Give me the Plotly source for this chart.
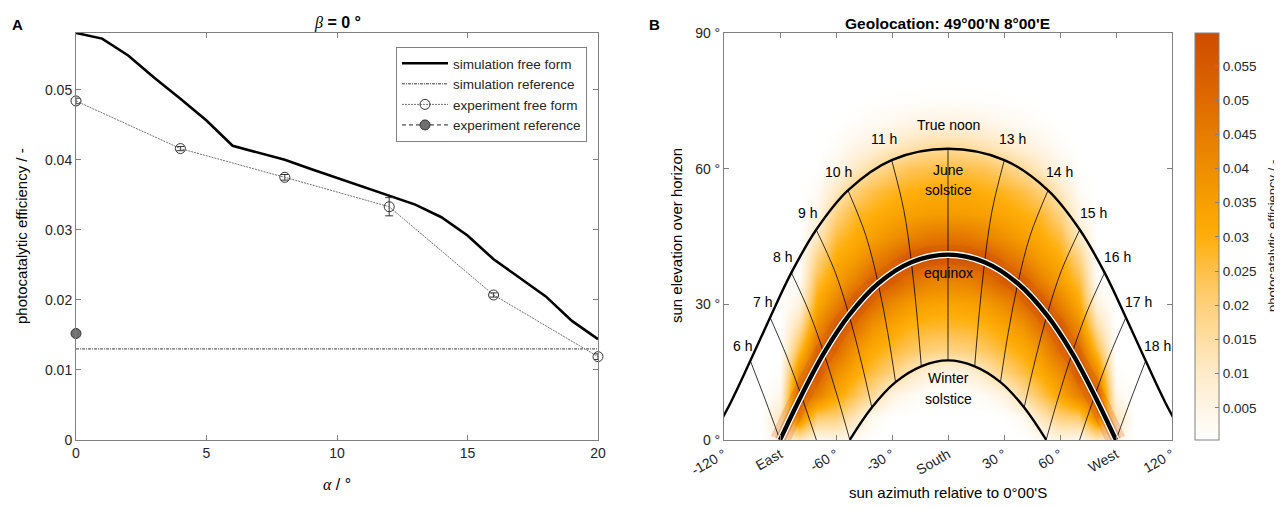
import plotly.graph_objects as go

# The page is 1282x508 and the browser adds an 8px body margin, so the figure starts
# at (8, 8).  All design coordinates below are page pixels, converted with PX/PY.
MARGIN = 8
W, H = 1282 - MARGIN, 508 - MARGIN


def PX(x):
    return (x - MARGIN) / W


def PY(y):
    return 1 - (y - MARGIN) / H


# ---------------- Panel A data ----------------
alpha_sim = [0, 1, 2, 3, 4, 5, 6, 7, 8, 9, 10, 11, 12, 13, 14, 15, 16, 17, 18, 19, 20]
eff_sim_free = [0.0581, 0.0573, 0.0549, 0.0517, 0.0487, 0.0456, 0.0420, 0.0410, 0.0400, 0.0387,
                0.0374, 0.0361, 0.0348, 0.0336, 0.0318, 0.0292, 0.0258, 0.0231, 0.0205, 0.0170, 0.0144]
alpha_sim_ref = [0, 20]
eff_sim_ref = [0.0130, 0.0130]
alpha_exp = [0, 4, 8, 12, 16, 20]
eff_exp_free = [0.0484, 0.0416, 0.0375, 0.0333, 0.0207, 0.0119]
err_exp_free = [0.0004, 0.0003, 0.0004, 0.0013, 0.0003, 0.0004]
alpha_exp_ref = [0]
eff_exp_ref = [0.0152]
err_exp_ref = [0.0003]
a_xticks = [0, 5, 10, 15, 20]
a_yticks = [0, 0.01, 0.02, 0.03, 0.04, 0.05]
a_yticktext = ["0", "0.01", "0.02", "0.03", "0.04", "0.05"]

# ---------------- Panel B data ----------------
az_grid = [-120, -110, -100, -90, -80, -70, -60, -50, -40, -30, -20, -10, 0,
           10, 20, 30, 40, 50, 60, 70, 80, 90, 100, 110, 120]
el_grid = [0, 5, 10, 15, 20, 25, 30, 35, 40, 45, 50, 55, 60, 65, 70, 75, 80, 85, 90]
eff_map = [
    [0, 0, 0, 0.006, 0.012, 0.003, 0.005, 0.002, 0, 0, 0, 0, 0, 0, 0, 0, 0, 0.002, 0.005, 0.003, 0.012, 0.006, 0, 0, 0],
    [0, 0, 0, 0.012, 0.042, 0.022, 0.020, 0.012, 0.003, 0.0003, 0, 0, 0, 0, 0, 0.0003, 0.003, 0.012, 0.020, 0.022, 0.042, 0.012, 0, 0, 0],
    [0, 0, 0, 0.004, 0.052, 0.044, 0.033, 0.024, 0.016, 0.006, 0.0025, 0.0005, 0.0003, 0.0005, 0.0025, 0.006, 0.016, 0.024, 0.033, 0.044, 0.052, 0.004, 0, 0, 0],
    [0, 0, 0, 0.001, 0.040, 0.055, 0.040, 0.032, 0.0255, 0.0195, 0.012, 0.007, 0.005, 0.007, 0.012, 0.0195, 0.0255, 0.032, 0.040, 0.055, 0.040, 0.001, 0, 0, 0],
    [0, 0, 0, 0, 0.026, 0.050, 0.050, 0.038, 0.0315, 0.027, 0.023, 0.020, 0.019, 0.020, 0.023, 0.027, 0.0315, 0.038, 0.050, 0.050, 0.026, 0, 0, 0, 0],
    [0, 0, 0, 0, 0.015, 0.040, 0.054, 0.048, 0.038, 0.033, 0.029, 0.0275, 0.027, 0.0275, 0.029, 0.033, 0.038, 0.048, 0.054, 0.040, 0.015, 0, 0, 0, 0],
    [0, 0, 0, 0, 0.006, 0.032, 0.0435, 0.056, 0.049, 0.041, 0.036, 0.034, 0.033, 0.034, 0.036, 0.041, 0.049, 0.056, 0.0435, 0.032, 0.006, 0, 0, 0, 0],
    [0, 0, 0, 0, 0.002, 0.026, 0.0355, 0.044, 0.054, 0.053, 0.047, 0.043, 0.042, 0.043, 0.047, 0.053, 0.054, 0.044, 0.0355, 0.026, 0.002, 0, 0, 0, 0],
    [0, 0, 0, 0, 0.0005, 0.019, 0.031, 0.0357, 0.043, 0.049, 0.056, 0.056, 0.055, 0.056, 0.056, 0.049, 0.043, 0.0357, 0.031, 0.019, 0.0005, 0, 0, 0, 0],
    [0, 0, 0, 0, 0, 0.011, 0.026, 0.031, 0.0348, 0.039, 0.043, 0.046, 0.047, 0.046, 0.043, 0.039, 0.0348, 0.031, 0.026, 0.011, 0, 0, 0, 0, 0],
    [0, 0, 0, 0, 0, 0.005, 0.019, 0.027, 0.030, 0.0327, 0.0345, 0.0355, 0.036, 0.0355, 0.0345, 0.0327, 0.030, 0.027, 0.019, 0.005, 0, 0, 0, 0, 0],
    [0, 0, 0, 0, 0, 0.002, 0.011, 0.020, 0.025, 0.028, 0.0297, 0.031, 0.031, 0.031, 0.0297, 0.028, 0.025, 0.020, 0.011, 0.002, 0, 0, 0, 0, 0],
    [0, 0, 0, 0, 0, 0.0005, 0.005, 0.0105, 0.016, 0.0205, 0.024, 0.025, 0.026, 0.025, 0.024, 0.0205, 0.016, 0.0105, 0.005, 0.0005, 0, 0, 0, 0, 0],
    [0, 0, 0, 0, 0, 0, 0.0015, 0.0045, 0.007, 0.010, 0.013, 0.015, 0.016, 0.015, 0.013, 0.010, 0.007, 0.0045, 0.0015, 0, 0, 0, 0, 0, 0],
    [0, 0, 0, 0, 0, 0, 0.0003, 0.0012, 0.0025, 0.0035, 0.005, 0.006, 0.006, 0.006, 0.005, 0.0035, 0.0025, 0.0012, 0.0003, 0, 0, 0, 0, 0, 0],
    [0, 0, 0, 0, 0, 0, 0, 0, 0.0005, 0.0008, 0.001, 0.0015, 0.0015, 0.0015, 0.001, 0.0008, 0.0005, 0, 0, 0, 0, 0, 0, 0, 0],
    [0] * 25,
    [0] * 25,
    [0] * 25,
]

# sun paths (azimuth from south, elevation)
june_az = [-127.4, -116.4, -105.9, -95.3, -83.9, -70.6, -53.6, -30.2, 0, 30.2, 53.6, 70.6, 83.9, 95.3, 105.9, 116.4, 127.4]
june_el = [-0.05, 8.3, 17.5, 27.1, 37.0, 46.5, 55.2, 61.9, 64.4, 61.9, 55.2, 46.5, 37.0, 27.1, 17.5, 8.3, -0.05]
equinox_az = [-90, -78.6, -66.5, -53.0, -37.4, -19.6, 0, 19.6, 37.4, 53.0, 66.5, 78.6, 90]
equinox_el = [0, 9.8, 19.2, 27.6, 34.6, 39.3, 41.0, 39.3, 34.6, 27.6, 19.2, 9.8, 0]
winter_az = [-52.6, -40.8, -28.1, -14.3, 0, 14.3, 28.1, 40.8, 52.6]
winter_el = [0.05, 7.2, 12.8, 16.3, 17.6, 16.3, 12.8, 7.2, 0.05]

# hour lines: from June path down to winter path / horizon
hour_lines_az = [
    [-105.9, -97.8, -90.0],
    [-95.3, -86.5, -78.6, -70.5],
    [-83.9, -74.4, -66.5, -59.3, -52.6],
    [-70.6, -60.7, -53.0, -46.6, -40.8],
    [-53.6, -44.0, -37.4, -32.3, -28.1],
    [-30.2, -23.6, -19.6, -16.7, -14.3],
    [0, 0, 0, 0, 0],
    [30.2, 23.6, 19.6, 16.7, 14.3],
    [53.6, 44.0, 37.4, 32.3, 28.1],
    [70.6, 60.7, 53.0, 46.6, 40.8],
    [83.9, 74.4, 66.5, 59.3, 52.6],
    [95.3, 86.5, 78.6, 70.5],
    [105.9, 97.8, 90.0],
]
hour_lines_el = [
    [17.5, 8.8, 0],
    [27.1, 18.6, 9.8, 0],
    [37.0, 28.3, 19.2, 9.7, 0.05],
    [46.5, 37.4, 27.6, 17.5, 7.2],
    [55.2, 45.2, 34.6, 23.8, 12.8],
    [61.9, 50.7, 39.3, 27.9, 16.3],
    [64.4, 52.7, 41.0, 29.3, 17.6],
    [61.9, 50.7, 39.3, 27.9, 16.3],
    [55.2, 45.2, 34.6, 23.8, 12.8],
    [46.5, 37.4, 27.6, 17.5, 7.2],
    [37.0, 28.3, 19.2, 9.7, 0.05],
    [27.1, 18.6, 9.8, 0],
    [17.5, 8.8, 0],
]

hour_label_text = ["6 h", "7 h", "8 h", "9 h", "10 h", "11 h", "True noon", "13 h", "14 h", "15 h", "16 h", "17 h", "18 h"]
hour_label_az = [-110.3, -99.6, -88.9, -75.5, -58.4, -34.3, 0, 34.3, 59.5, 78.2, 91.0, 101.8, 112.0]
hour_label_el = [20.8, 30.5, 40.5, 50.2, 59.3, 66.6, 69.7, 66.6, 59.3, 50.2, 40.5, 30.5, 20.8]
path_label_text = ["June", "solstice", "equinox", "Winter", "solstice"]
path_label_az = [0, 0, 0, 0, 0]
path_label_el = [59.7, 55.3, 37.0, 13.8, 9.0]

b_xticks = [-120, -90, -60, -30, 0, 30, 60, 90, 120]
b_xticktext = ["-120 °", "East", "-60 °", "-30 °", "South", "30 °", "60 °", "West", "120 °"]
b_yticks = [0, 30, 60, 90]
b_yticktext = ["0 °", "30 °", "60 °", "90 °"]
cb_ticks = [0.005, 0.01, 0.015, 0.02, 0.025, 0.03, 0.035, 0.04, 0.045, 0.05, 0.055]
cb_ticktext = ["0.005", "0.01", "0.015", "0.02", "0.025", "0.03", "0.035", "0.04", "0.045", "0.05", "0.055"]
eff_min, eff_max = 0.0003, 0.0598

colorscale = [
    [0.0, "#FFFFFF"], [0.079, "#FFF5E6"], [0.163, "#FFEBC9"], [0.247, "#FFDEA3"],
    [0.331, "#FFD07A"], [0.415, "#FFC04A"], [0.499, "#FFAE0A"], [0.583, "#F79F00"],
    [0.667, "#EE8E00"], [0.752, "#E67C00"], [0.836, "#DE6A00"], [0.92, "#D65A00"],
    [1.0, "#CF4C00"],
]

FONT = "Liberation Sans, Arial, sans-serif"
TXT = "#262626"
AX = "#808080"

fig = go.Figure()

# ---- Panel A traces ----
fig.add_trace(go.Scatter(x=alpha_sim, y=eff_sim_free, mode="lines", name="simulation free form",
                         line=dict(color="black", width=2.6), xaxis="x", yaxis="y"))
fig.add_trace(go.Scatter(x=alpha_sim_ref, y=eff_sim_ref, mode="lines", name="simulation reference",
                         line=dict(color="#3a3a3a", width=1, dash="3px,1px,1px,1px"), xaxis="x", yaxis="y"))
fig.add_trace(go.Scatter(x=alpha_exp, y=eff_exp_free, mode="lines+markers", name="experiment free form",
                         line=dict(color="#707070", width=1, dash="2px,1px"),
                         marker=dict(symbol="circle-open", size=10, color="#333333", line=dict(width=1)),
                         error_y=dict(type="data", array=err_exp_free, color="#333333", thickness=1, width=4),
                         cliponaxis=False, xaxis="x", yaxis="y"))
fig.add_trace(go.Scatter(x=alpha_exp_ref, y=eff_exp_ref, mode="lines+markers", name="experiment reference",
                         line=dict(color="#222222", width=1, dash="4px,3px"),
                         marker=dict(symbol="circle", size=10, color="#707070", line=dict(color="#333333", width=1)),
                         error_y=dict(type="data", array=err_exp_ref, color="#333333", thickness=1, width=4),
                         cliponaxis=False, xaxis="x", yaxis="y"))

# ---- Panel B traces ----
fig.add_trace(go.Heatmap(x=az_grid, y=el_grid, z=eff_map, colorscale=colorscale, zmin=eff_min, zmax=eff_max,
                         zsmooth="best", showscale=True, xaxis="x2", yaxis="y2", hoverinfo="skip",
                         colorbar=dict(x=PX(1195), xanchor="left", y=PY(236.5), yanchor="middle",
                                       thickness=24, thicknessmode="pixels", len=407, lenmode="pixels",
                                       outlinecolor=AX, outlinewidth=1, tickvals=cb_ticks, ticktext=cb_ticktext,
                                       ticks="inside", ticklen=4, tickcolor=AX,
                                       tickfont=dict(family=FONT, size=13.5, color=TXT), ypad=0, xpad=0)))
# soft ridge along the equinox path
fig.add_trace(go.Scatter(x=equinox_az, y=equinox_el, mode="lines", showlegend=False, hoverinfo="skip",
                         line=dict(color="rgba(205,78,0,0.22)", width=20, shape="spline"), xaxis="x2", yaxis="y2"))
fig.add_trace(go.Scatter(x=equinox_az, y=equinox_el, mode="lines", showlegend=False, hoverinfo="skip",
                         line=dict(color="rgba(205,78,0,0.35)", width=10, shape="spline"), xaxis="x2", yaxis="y2"))
for haz, hel in zip(hour_lines_az, hour_lines_el):
    fig.add_trace(go.Scatter(x=haz, y=hel, mode="lines", showlegend=False, hoverinfo="skip",
                             line=dict(color="black", width=0.8, shape="spline"), xaxis="x2", yaxis="y2"))
fig.add_trace(go.Scatter(x=june_az, y=june_el, mode="lines", showlegend=False, hoverinfo="skip",
                         line=dict(color="black", width=2.4, shape="spline"), xaxis="x2", yaxis="y2"))
fig.add_trace(go.Scatter(x=winter_az, y=winter_el, mode="lines", showlegend=False, hoverinfo="skip",
                         line=dict(color="black", width=2.4, shape="spline"), xaxis="x2", yaxis="y2"))
fig.add_trace(go.Scatter(x=equinox_az, y=equinox_el, mode="lines", showlegend=False, hoverinfo="skip",
                         line=dict(color="white", width=7, shape="spline"), xaxis="x2", yaxis="y2"))
fig.add_trace(go.Scatter(x=equinox_az, y=equinox_el, mode="lines", showlegend=False, hoverinfo="skip",
                         line=dict(color="black", width=4.4, shape="spline"), xaxis="x2", yaxis="y2"))

axis_common = dict(showgrid=False, zeroline=False, showline=True, linecolor=AX, linewidth=1,
                   mirror="ticks", ticks="inside", ticklen=5, tickcolor=AX, automargin=False,
                   tickfont=dict(family=FONT, size=14, color=TXT))

fig.update_layout(
    width=W, height=H, margin=dict(l=0, r=0, t=0, b=0, pad=0, autoexpand=False),
    paper_bgcolor="white", plot_bgcolor="white", hovermode=False,
    font=dict(family=FONT, color=TXT),
    xaxis=dict(domain=[PX(76), PX(598)], range=[0, 20], tickvals=a_xticks, anchor="y", **axis_common),
    yaxis=dict(domain=[PY(440), PY(33)], range=[0, 0.0581], tickvals=a_yticks, ticktext=a_yticktext,
               anchor="x", **axis_common),
    xaxis2=dict(domain=[PX(724), PX(1172)], range=[-120, 120], tickvals=b_xticks, ticktext=b_xticktext,
                tickangle=-30, anchor="y2", **axis_common),
    yaxis2=dict(domain=[PY(440), PY(33)], range=[0, 90], tickvals=b_yticks, ticktext=b_yticktext,
                anchor="x2", **axis_common),
    legend=dict(x=PX(587), y=PY(47), xanchor="right", yanchor="top", bgcolor="white",
                bordercolor=AX, borderwidth=1, font=dict(family=FONT, size=13.5, color=TXT),
                itemwidth=46, tracegroupgap=0),
    showlegend=True,
)

ann = []


def paper_text(x, y, text, size=15, angle=0):
    ann.append(dict(xref="paper", yref="paper", x=PX(x), y=PY(y), text=text, showarrow=False,
                    textangle=angle, xanchor="center", yanchor="middle",
                    font=dict(family=FONT, size=size, color="black" if size >= 15 else TXT)))


paper_text(17, 24, "<b>A</b>", size=15)
paper_text(654, 24, "<b>B</b>", size=15)
paper_text(337, 23, "<span style='font-family:Liberation Serif'><i>β</i></span><b> = 0 °</b>", size=16)
paper_text(948, 23, "<b>Geolocation: 49°00'N 8°00'E</b>", size=15.5)
paper_text(337, 484, "<span style='font-family:Liberation Serif'><i>α</i></span> / °", size=16)
paper_text(22, 236, "photocatalytic efficiency / -", size=15, angle=-90)
paper_text(677, 236, "sun elevation over horizon", size=15, angle=-90)
paper_text(948, 492, "sun azimuth relative to 0°00'S", size=15)
paper_text(1273, 236, "photocatalytic efficiency / -", size=13, angle=-90)

for t, a, e in zip(hour_label_text, hour_label_az, hour_label_el):
    ann.append(dict(xref="x2", yref="y2", x=a, y=e, text=t, showarrow=False,
                    font=dict(family=FONT, size=14, color="black")))
for t, a, e in zip(path_label_text, path_label_az, path_label_el):
    ann.append(dict(xref="x2", yref="y2", x=a, y=e, text=t, showarrow=False,
                    font=dict(family=FONT, size=14, color="black")))

fig.update_layout(annotations=ann)
fig.write_html("out.html", config={"displayModeBar": False})
